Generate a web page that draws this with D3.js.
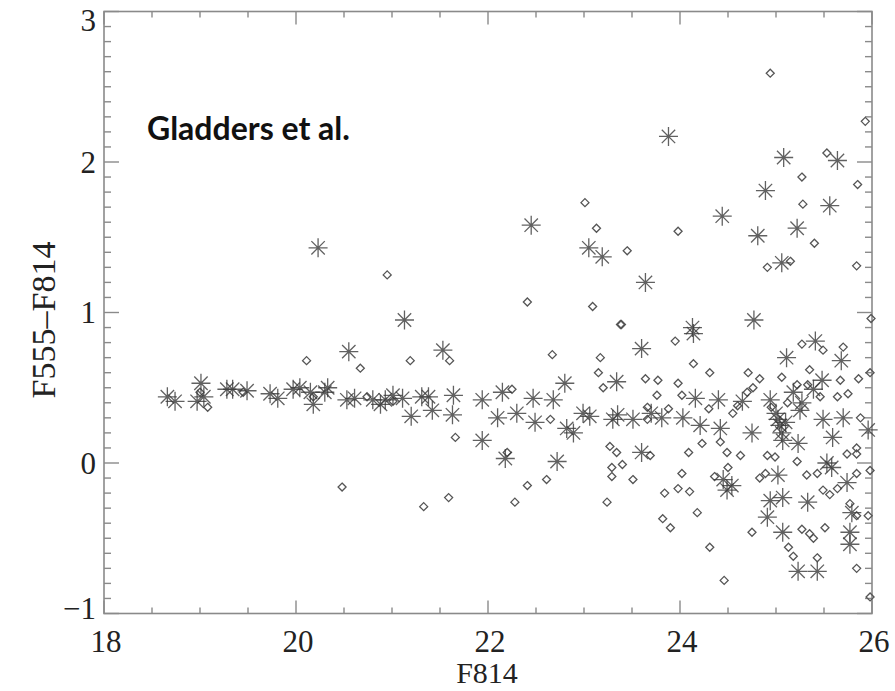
<!DOCTYPE html>
<html>
<head>
<meta charset="utf-8">
<script src="https://cdn.jsdelivr.net/npm/d3@7"></script>
<style>
  body { margin: 0; background: #fff; }
  svg { display: block; }
</style>
</head>
<body>
<svg id="chart" width="895" height="691"></svg>
<script>
// asterisk points (F814, F555-F814)
const starX = [18.66, 18.74, 18.97, 19.01, 19.04, 19.28, 19.34, 19.49, 19.73, 19.81, 19.97, 20.04, 20.15, 20.18, 20.30, 20.33,
  20.55, 20.53, 20.61, 20.80, 20.88, 20.93, 21.01, 20.23, 21.13, 21.53, 21.11, 21.20, 21.31, 21.38, 21.42, 21.64, 21.63,
  21.94, 21.94, 22.10, 22.15, 22.30, 22.18, 22.47, 22.49, 22.68, 22.80, 22.82, 22.89, 22.99, 23.06, 23.30, 23.35, 23.51,
  23.34, 23.60, 23.60, 22.72, 23.88, 22.45, 23.05, 23.19, 23.64, 25.08, 25.64, 24.89, 25.56, 24.44, 24.81, 25.22, 25.06,
  24.13, 24.14, 24.77, 25.41, 25.11, 25.68, 23.81, 24.03, 24.16, 24.21, 24.40, 24.42, 24.65, 24.75, 24.94, 25.02, 25.06,
  25.07, 25.18, 25.25, 25.27, 25.23, 25.49, 25.48, 25.39, 25.59, 25.70, 25.96, 25.53, 25.58, 25.02, 25.07, 24.94, 24.91,
  25.07, 25.33, 25.74, 25.79, 25.77, 25.77, 25.23, 25.43, 24.45, 24.49, 24.54, 25.00, 25.04, 25.10, 23.70];
const starY = [0.44, 0.41, 0.41, 0.53, 0.44, 0.49, 0.49, 0.48, 0.46, 0.43, 0.49, 0.50, 0.47, 0.39, 0.47, 0.50,
  0.74, 0.42, 0.43, 0.42, 0.39, 0.42, 0.45, 1.43, 0.95, 0.75, 0.43, 0.31, 0.44, 0.44, 0.35, 0.45, 0.32,
  0.42, 0.15, 0.30, 0.47, 0.33, 0.03, 0.43, 0.27, 0.42, 0.53, 0.23, 0.20, 0.33, 0.31, 0.29, 0.32, 0.29,
  0.54, 0.76, 0.07, 0.01, 2.17, 1.58, 1.43, 1.37, 1.20, 2.03, 2.01, 1.81, 1.71, 1.64, 1.51, 1.56, 1.33,
  0.90, 0.86, 0.95, 0.81, 0.70, 0.68, 0.30, 0.30, 0.43, 0.25, 0.42, 0.23, 0.41, 0.20, 0.42, 0.29, 0.20,
  0.15, 0.47, 0.35, 0.40, 0.13, 0.29, 0.55, 0.49, 0.17, 0.30, 0.22, 0.00, -0.03, -0.08, -0.23, -0.25, -0.36,
  -0.46, -0.26, -0.13, -0.33, -0.46, -0.54, -0.72, -0.72, -0.11, -0.18, -0.15, 0.33, 0.25, 0.27, 0.33];

// diamond points
const diaX = [19.08, 19.00, 19.45, 20.11, 20.67, 20.95, 21.19, 20.18, 20.74, 21.01, 20.48, 21.33, 21.59, 21.66, 21.60,
  22.41, 23.09, 23.38, 22.67, 23.17, 23.15, 23.20, 23.64, 22.25, 22.20, 22.41, 22.61, 22.28, 23.24, 23.27, 23.34,
  23.40, 23.29, 23.29, 23.51, 22.65, 23.66, 23.66, 23.01, 23.13, 23.45, 23.98, 23.39, 25.53, 25.93, 25.27, 25.85,
  25.28, 25.40, 24.91, 25.15, 25.84, 24.94, 23.95, 24.14, 24.31, 23.77, 23.98, 23.76, 24.02, 24.71, 24.83, 25.06,
  25.27, 25.49, 25.70, 25.35, 25.67, 25.75, 25.86, 25.98, 24.76, 24.70, 24.55, 24.23, 24.09, 24.42, 24.49, 24.63,
  24.91, 25.22, 25.32, 25.43, 25.74, 25.84, 25.88, 25.84, 25.98, 24.02, 23.98, 24.10, 23.84, 24.36, 24.50, 24.83,
  24.89, 25.49, 25.64, 25.56, 24.18, 23.82, 23.90, 24.75, 25.27, 25.35, 25.39, 25.51, 25.77, 25.84, 25.96, 24.31,
  25.13, 25.18, 25.43, 25.84, 24.46, 25.98, 25.99, 23.69, 25.64, 25.46, 25.33, 25.22, 24.99, 25.84,
  23.88, 24.30, 24.60, 24.95, 25.12];
const diaY = [0.37, 0.47, 0.47, 0.68, 0.63, 1.25, 0.68, 0.44, 0.44, 0.41, -0.16, -0.29, -0.23, 0.17, 0.68,
  1.07, 1.04, 0.92, 0.72, 0.70, 0.60, 0.50, 0.56, 0.49, 0.07, -0.15, -0.11, -0.26, -0.26, 0.11, 0.07,
  -0.01, -0.03, -0.09, -0.11, 0.29, 0.29, 0.37, 1.73, 1.56, 1.41, 1.54, 0.92, 2.06, 2.27, 1.90, 1.85,
  1.72, 1.46, 1.30, 1.34, 1.31, 2.59, 0.81, 0.66, 0.60, 0.55, 0.53, 0.45, 0.45, 0.60, 0.56, 0.57,
  0.79, 0.75, 0.77, 0.62, 0.55, 0.46, 0.56, 0.60, 0.50, 0.47, 0.33, 0.13, 0.07, 0.14, 0.07, 0.05,
  0.05, 0.01, -0.08, -0.07, 0.06, 0.06, 0.30, -0.07, -0.05, -0.07, -0.17, -0.19, -0.20, -0.09, -0.03, -0.10,
  -0.07, -0.18, -0.17, -0.21, -0.33, -0.37, -0.43, -0.46, -0.44, -0.47, -0.50, -0.43, -0.27, -0.35, -0.35, -0.56,
  -0.56, -0.62, -0.63, -0.70, -0.78, -0.89, 0.96, 0.05, 0.44, 0.44, 0.52, 0.52, 0.04, 0.10,
  0.36, 0.36, 0.38, 0.37, 0.40];

const xTicks = [18, 20, 22, 24, 26];
const yTicks = [-1, 0, 1, 2, 3];

const svg = d3.select("#chart");
const plotLeft = 104, plotRight = 872, plotTop = 11.5, plotBottom = 613.5;

const x = d3.scaleLinear().domain([18, 26]).range([plotLeft, plotRight]);
const y = d3.scaleLinear().domain([-1, 3]).range([plotBottom, plotTop]);

const axisColor = "#8a8a8a";
const textColor = "#222";

// ticks: major + minor on all four sides, pointing inward
const xMinor = d3.range(18, 26.001, 0.5);
const yMinor = d3.range(-1, 3.001, 0.1);
const g = svg.append("g").attr("stroke", axisColor).attr("stroke-width", 1.4);

xMinor.forEach(v => {
    const len = Math.abs(v % 2) < 1e-6 ? 13 : 6;
    g.append("line").attr("x1", x(v)).attr("x2", x(v)).attr("y1", plotBottom).attr("y2", plotBottom - len);
    g.append("line").attr("x1", x(v)).attr("x2", x(v)).attr("y1", plotTop).attr("y2", plotTop + len);
});
yMinor.forEach(v => {
    const len = Math.abs(v - Math.round(v)) < 1e-6 ? 15 : 7;
    g.append("line").attr("x1", plotLeft).attr("x2", plotLeft + len).attr("y1", y(v)).attr("y2", y(v));
    g.append("line").attr("x1", plotRight).attr("x2", plotRight - len).attr("y1", y(v)).attr("y2", y(v));
});

// frame
svg.append("rect")
    .attr("x", plotLeft).attr("y", plotTop)
    .attr("width", plotRight - plotLeft).attr("height", plotBottom - plotTop)
    .attr("fill", "none").attr("stroke", axisColor).attr("stroke-width", 1.6);

// tick labels
svg.append("g").selectAll("text").data(xTicks).join("text")
    .attr("x", d => x(d) + 2).attr("y", 652)
    .attr("text-anchor", "middle")
    .attr("font-family", "'Liberation Serif', 'DejaVu Serif', serif")
    .attr("font-size", 31).attr("fill", textColor)
    .text(d => d);

svg.append("g").selectAll("text").data(yTicks).join("text")
    .attr("x", 96)
    .attr("y", d => y(d) + (d === 3 ? 9 : d === -1 ? -5 : 0))
    .attr("dy", "0.35em")
    .attr("text-anchor", "end")
    .attr("font-family", "'Liberation Serif', 'DejaVu Serif', serif")
    .attr("font-size", 31).attr("fill", textColor)
    .text(d => d < 0 ? "\u2212" + Math.abs(d) : d);

// axis titles
svg.append("text")
    .attr("x", 487).attr("y", 683)
    .attr("text-anchor", "middle")
    .attr("font-family", "'Liberation Serif', 'DejaVu Serif', serif")
    .attr("font-size", 30).attr("fill", textColor)
    .text("F814");

svg.append("text")
    .attr("transform", "translate(55,320) rotate(-90)")
    .attr("text-anchor", "middle")
    .attr("font-family", "'Liberation Serif', 'DejaVu Serif', serif")
    .attr("font-size", 34).attr("fill", textColor)
    .text("F555\u2013F814");

// annotation
svg.append("text")
    .attr("x", 147).attr("y", 140)
    .attr("font-family", "Lato, 'Open Sans', sans-serif")
    .attr("font-weight", "bold")
    .attr("font-size", 32).attr("fill", "#111")
    .text("Gladders et al.");

// markers
const diamondPath = "M0,-4L4,0L0,4L-4,0Z";
const starPath = "M0,-9.5L0,9.5M-9.5,0L9.5,0M-6.7,-6.7L6.7,6.7M-6.7,6.7L6.7,-6.7";

const diamonds = diaX.map((v, i) => ({ x: v, y: diaY[i] }));
const stars = starX.map((v, i) => ({ x: v, y: starY[i] }));

svg.append("g").selectAll("path").data(diamonds).join("path")
    .attr("d", diamondPath)
    .attr("transform", d => `translate(${x(d.x)},${y(d.y)})`)
    .attr("fill", "none").attr("stroke", "#555").attr("stroke-width", 1.3);

svg.append("g").selectAll("path").data(stars).join("path")
    .attr("d", starPath)
    .attr("transform", d => `translate(${x(d.x)},${y(d.y)})`)
    .attr("fill", "none").attr("stroke", "#3a3a3a").attr("stroke-width", 1.3)
    .attr("stroke-opacity", 0.8);
</script>
</body>
</html>
